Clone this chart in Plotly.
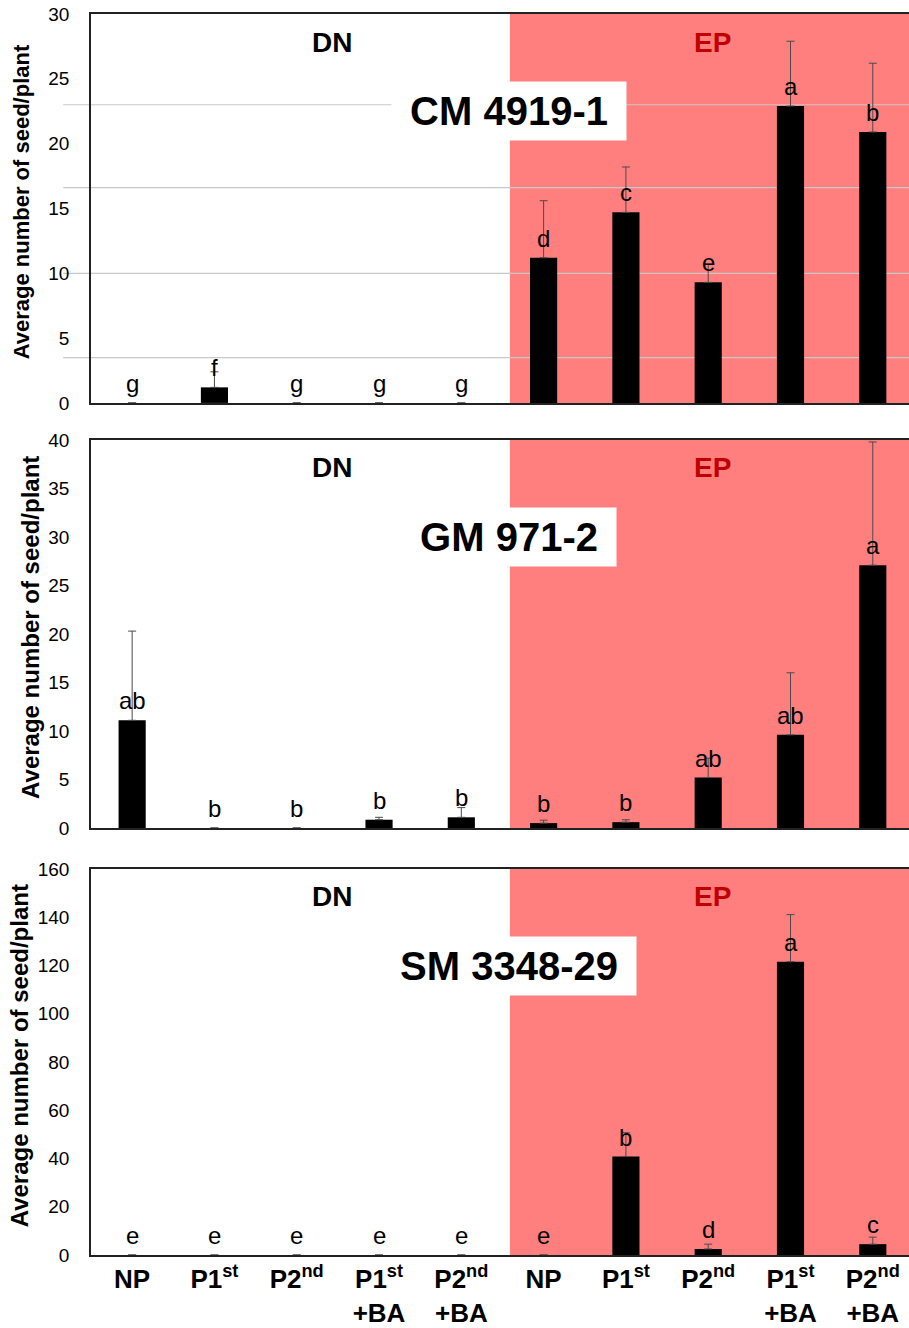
import plotly.graph_objects as go
from plotly.subplots import make_subplots

categories = ['NP', 'P1<sup>st</sup>', 'P2<sup>nd</sup>', 'P1<sup>st</sup><br>+BA', 'P2<sup>nd</sup><br>+BA',
              'NP', 'P1<sup>st</sup>', 'P2<sup>nd</sup>', 'P1<sup>st</sup><br>+BA', 'P2<sup>nd</sup><br>+BA']

cm_names = 'CM 4919-1'
cm_means = [0, 1.2, 0, 0, 0, 11.2, 14.7, 9.3, 22.9, 20.9]
cm_errs = [0, 1.2, 0, 0, 0, 4.4, 3.5, 1.4, 5.0, 5.3]
cm_letters = ['g', 'f', 'g', 'g', 'g', 'd', 'c', 'e', 'a', 'b']
cm_grid = [3.5, 10, 16.6, 23.0]

gm_names = 'GM 971-2'
gm_means = [11.1, 0, 0, 0.85, 1.1, 0.5, 0.6, 5.2, 9.6, 27.1]
gm_errs = [9.2, 0, 0, 0.25, 1.0, 0.3, 0.25, 2.0, 6.4, 12.7]
gm_letters = ['ab', 'b', 'b', 'b', 'b', 'b', 'b', 'ab', 'ab', 'a']

sm_names = 'SM 3348-29'
sm_means = [0, 0, 0, 0, 0, 0, 40.8, 2.5, 121.6, 4.5]
sm_errs = [0, 0, 0, 0, 0, 0, 9.9, 2.0, 19.5, 2.9]
sm_letters = ['e', 'e', 'e', 'e', 'e', 'e', 'b', 'd', 'a', 'c']

panels = [
    (cm_names, cm_means, cm_errs, cm_letters, 30, 5),
    (gm_names, gm_means, gm_errs, gm_letters, 40, 5),
    (sm_names, sm_means, sm_errs, sm_letters, 160, 20),
]

FONT = 'Liberation Sans, Arial, sans-serif'
EP_START = 4.59
X_RANGE = [-0.5, 9.44]

fig = make_subplots(rows=3, cols=1)

domains = [[0.6866, 1.0], [0.3441, 0.6567], [0.0, 0.3110]]
title_x = [-0.085, -0.074, -0.087]
title_size = [22, 24, 24]

for row, (name, means, errs, letters, ymax, dtick) in enumerate(panels, start=1):
    x = list(range(len(categories)))
    fig.add_trace(go.Bar(
        x=x, y=means, width=0.33,
        marker=dict(color='black', line=dict(width=0)),
        error_y=dict(type='data', symmetric=False,
                     array=[e if e > 0 else None for e in errs],
                     arrayminus=[0] * len(errs),
                     color='#4a4a4a', thickness=1, width=4),
        showlegend=False, hoverinfo='skip',
    ), row=row, col=1)

    xa = 'x' if row == 1 else 'x%d' % row
    ya = 'y' if row == 1 else 'y%d' % row

    # EP shaded block
    fig.add_shape(type='rect', xref=xa, yref=ya + ' domain',
                  x0=EP_START, x1=X_RANGE[1], y0=0, y1=1,
                  fillcolor='#FF7F7F', line=dict(width=0), layer='below')

    for i, (m, lab) in enumerate(zip(means, letters)):
        fig.add_annotation(x=i, y=m, xref=xa, yref=ya, text=lab, showarrow=False,
                           xanchor='center', yanchor='bottom', yshift=4,
                           font=dict(family=FONT, size=24, color='black'))

    fig.add_annotation(x=0.295, y=0.928, xref='paper', yref=ya + ' domain',
                       text='<b>DN</b>', showarrow=False,
                       xanchor='center', yanchor='middle',
                       font=dict(family=FONT, size=28, color='black'))
    fig.add_annotation(x=0.760, y=0.928, xref='paper', yref=ya + ' domain',
                       text='<b>EP</b>', showarrow=False,
                       xanchor='center', yanchor='middle',
                       font=dict(family=FONT, size=28, color='#C00000'))
    fig.add_annotation(x=0.511, y=0.75, xref='paper', yref=ya + ' domain',
                       text='<b>&nbsp;%s&nbsp;</b>' % name, showarrow=False,
                       xanchor='center', yanchor='middle',
                       bgcolor='white', borderpad=7,
                       font=dict(family=FONT, size=40, color='black'))
    fig.add_annotation(x=title_x[row - 1], y=0.517, xref='paper', yref=ya + ' domain',
                       text='<b>Average number of seed/plant</b>', textangle=-90,
                       showarrow=False, xanchor='center', yanchor='middle',
                       font=dict(family=FONT, size=title_size[row - 1], color='black'))

    fig.update_xaxes(range=X_RANGE, tickvals=x,
                     ticktext=['<b>%s</b>' % c for c in categories],
                     showticklabels=(row == 3), ticks='',
                     showline=True, linecolor='#222', linewidth=1.5, mirror=True,
                     showgrid=False, zeroline=False,
                     tickfont=dict(family=FONT, size=26, color='black'),
                     row=row, col=1)
    fig.update_yaxes(range=[0, ymax], dtick=dtick, domain=domains[row - 1],
                     showline=True, linecolor='#222', linewidth=1.5,
                     showgrid=False, zeroline=False, ticks='',
                     ticklabelstandoff=16,
                     tickfont=dict(family=FONT, size=19, color='black'),
                     row=row, col=1)

# stray grey rules in the top panel
for g in cm_grid:
    fig.add_shape(type='line', xref='paper', yref='y', x0=-0.034, x1=1, y0=g, y1=g,
                  line=dict(color='#c8c8c8', width=1.2), layer='below')

fig.update_layout(
    width=909, height=1328, autosize=False,
    margin=dict(l=91, r=0, t=14, b=73),
    plot_bgcolor='rgba(0,0,0,0)', paper_bgcolor='white',
    font=dict(family=FONT, color='black'),
)

fig.write_html("out.html", config={'displayModeBar': False},
               post_script="document.body.style.margin='0';")
